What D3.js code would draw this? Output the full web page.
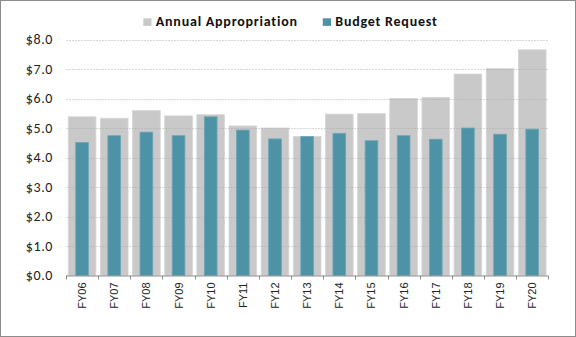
<!DOCTYPE html>
<html><head><meta charset="utf-8">
<script src="https://cdn.jsdelivr.net/npm/d3@7"></script>
<style>body{margin:0;background:#fff}svg{display:block}</style>
</head><body>
<script>
const categories = ["FY06","FY07","FY08","FY09","FY10","FY11","FY12","FY13","FY14","FY15","FY16","FY17","FY18","FY19","FY20"];
const appropriation = [5.38,5.33,5.59,5.41,5.45,5.07,5.00,4.71,5.47,5.49,6.00,6.04,6.83,7.01,7.65];
const budgetRequest = [4.51,4.74,4.86,4.74,5.38,4.93,4.63,4.71,4.82,4.57,4.74,4.62,5.00,4.79,4.96];
const yTicks = [0,1,2,3,4,5,6,7,8];
const seriesNames = ["Annual Appropriation","Budget Request"];
const colors = ["#c9c9c9","#4e92a6"];

const W = 576, H = 337;
const m = {left:66, right:27.7, top:39.5, bottom:61.5};
const svg = d3.select("body").append("svg").attr("width",W).attr("height",H);
svg.append("rect").attr("x",0.5).attr("y",0.5).attr("width",W-1).attr("height",H-1)
  .attr("fill","#fff").attr("stroke","#8c8c8c");

const x = d3.scaleBand().domain(categories).range([m.left, W-m.right]).paddingInner(0.14).paddingOuter(0.07);
const y = d3.scaleLinear().domain([0,8]).range([H-m.bottom, m.top]);

// gray bars
svg.append("g").selectAll("rect").data(appropriation).join("rect")
  .attr("x",(d,i)=>x(categories[i])).attr("width",x.bandwidth())
  .attr("y",d=>y(d)).attr("height",d=>y(0)-y(d)).attr("fill",colors[0])
  .attr("stroke","#d6d6d6").attr("stroke-width",0.8);

// gridlines (visible across the gray bars)
svg.append("g").selectAll("line").data(yTicks.filter(d=>d>0)).join("line")
  .attr("x1",m.left).attr("x2",W-m.right)
  .attr("y1",d=>Math.round(y(d))+0.5).attr("y2",d=>Math.round(y(d))+0.5)
  .attr("stroke","#a8a8a8").attr("stroke-opacity",0.45).attr("stroke-dasharray","2,1");

// blue bars
const bw = x.bandwidth()*0.46;
svg.append("g").selectAll("rect").data(budgetRequest).join("rect")
  .attr("x",(d,i)=>x(categories[i])+(x.bandwidth()-bw)/2).attr("width",bw)
  .attr("y",d=>y(d)).attr("height",d=>y(0)-y(d)).attr("fill",colors[1])
  .attr("stroke","#6fa6b6").attr("stroke-width",0.8);

// y axis labels
const yAxis = d3.axisLeft(y).tickValues(yTicks).tickSize(0).tickPadding(0).tickFormat(d=>"$"+d3.format(".1f")(d));
const ga = svg.append("g").attr("transform",`translate(${m.left-13},0)`).call(yAxis);
ga.select(".domain").remove();
ga.selectAll("text").attr("font-family","Carlito, 'Open Sans', sans-serif").attr("font-size",14)
  .attr("letter-spacing",0.6).attr("fill","#222");

// x axis
const edges = d3.range(categories.length+1).map(i=>m.left + i*(W-m.right-m.left)/categories.length);
const gx = svg.append("g");
gx.append("line").attr("x1",m.left).attr("x2",W-m.right).attr("y1",y(0)+0.5).attr("y2",y(0)+0.5).attr("stroke","#8c8c8c");
gx.selectAll("line.t").data(edges).join("line").attr("class","t")
  .attr("x1",d=>Math.round(d)+0.5).attr("x2",d=>Math.round(d)+0.5)
  .attr("y1",y(0)).attr("y2",y(0)+4).attr("stroke","#8c8c8c");
gx.selectAll("text").data(categories).join("text")
  .attr("transform",d=>`translate(${x(d)+x.bandwidth()/2+4},${y(0)+7}) rotate(-90)`)
  .attr("text-anchor","end").attr("font-family","'Liberation Sans', Arial, sans-serif")
  .attr("font-size",11).attr("fill","#222").text(d=>d);

// legend
const leg = svg.append("g");
const legX = [143.3, 322.8];
seriesNames.forEach((n,i)=>{
  leg.append("rect").attr("x",legX[i]).attr("y",18.3).attr("width",8.2).attr("height",7.6).attr("fill",colors[i]);
  leg.append("text").attr("x",legX[i]+12.5).attr("y",26.3).attr("font-family","Carlito, 'Open Sans', sans-serif")
    .attr("font-weight","bold").attr("font-size",14).attr("letter-spacing",0.78).attr("fill","#111").text(n);
});
</script>
</body></html>
